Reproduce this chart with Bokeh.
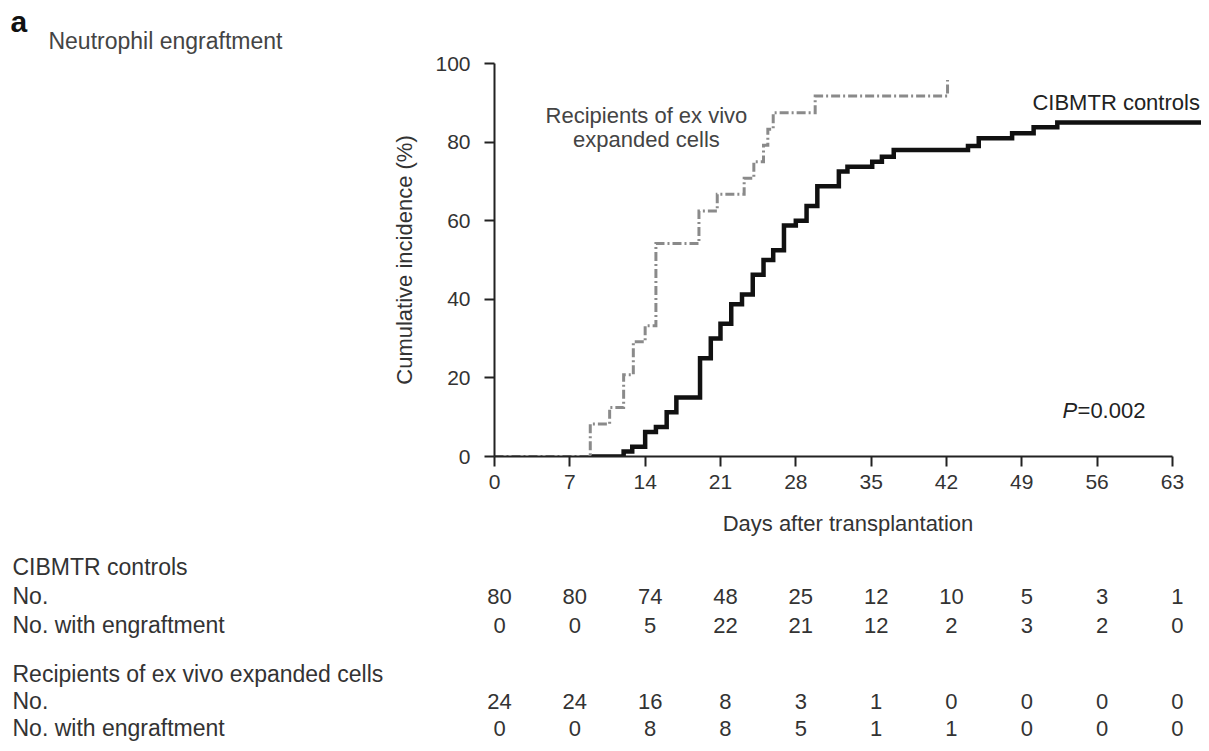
from bokeh.plotting import figure
from bokeh.models import Range1d, FixedTicker, ColumnDataSource
from bokeh.core.properties import value
from bokeh.embed import file_html
from bokeh.resources import INLINE

# ---------------- data ----------------
# CIBMTR controls: cumulative incidence (%) step curve
ctrl_days = [9.0, 12.0, 12.8, 14.0, 15.0, 16.0, 16.9, 19.1, 20.1, 21.0, 22.0, 23.0,
             24.0, 25.0, 25.9, 26.9, 28.0, 29.0, 30.0, 32.0, 32.8, 35.1, 36.0, 37.1,
             44.0, 45.0, 48.1, 50.1, 52.3, 66.0]
ctrl_inc = [0.0, 1.25, 2.5, 6.25, 7.5, 11.25, 15.0, 25.0, 30.0, 33.75, 38.75, 41.25,
            46.25, 50.0, 52.5, 58.75, 60.0, 63.75, 68.75, 72.5, 73.75, 75.0, 76.25, 78.0,
            79.0, 81.0, 82.25, 83.75, 85.0, 85.0]

# Recipients of ex vivo expanded cells
exp_days = [0.0, 8.9, 10.7, 12.0, 12.9, 14.0, 15.0, 19.0, 20.7, 23.2, 24.1, 25.0,
            25.4, 25.9, 29.8, 42.1]
exp_inc = [0.0, 8.3, 12.5, 20.8, 29.2, 33.3, 54.2, 62.5, 66.7, 70.8, 75.0, 79.2,
           83.3, 87.5, 91.7, 95.8]

tick_days = [0, 7, 14, 21, 28, 35, 42, 49, 56, 63]
tick_pct = [0, 20, 40, 60, 80, 100]

ctrl_no = [80, 80, 74, 48, 25, 12, 10, 5, 3, 1]
ctrl_eng = [0, 0, 5, 22, 21, 12, 2, 3, 2, 0]
exp_no = [24, 24, 16, 8, 3, 1, 0, 0, 0, 0]
exp_eng = [0, 0, 8, 8, 5, 1, 1, 0, 0, 0]

# ---------------- styling ----------------
FONT = "Liberation Sans"
TXT = "#333333"

p = figure(width=1201, height=743,
           x_range=Range1d(0, 65.7), y_range=Range1d(0, 100),
           output_backend="svg", toolbar_location=None,
           min_border_left=494, min_border_right=0,
           min_border_top=63, min_border_bottom=287)
p.outline_line_color = None
p.grid.visible = False
p.background_fill_color = "white"
p.border_fill_color = "white"

for ax in (p.xaxis[0], p.yaxis[0]):
    ax.axis_line_width = 2
    ax.axis_line_color = "#222222"
    ax.major_tick_line_width = 2
    ax.major_tick_line_color = "#222222"
    ax.major_tick_out = 10
    ax.major_tick_in = 0
    ax.minor_tick_out = 0
    ax.minor_tick_in = 0
    ax.major_label_text_font = FONT
    ax.major_label_text_font_size = "21px"
    ax.major_label_text_color = TXT
    ax.axis_label_text_font = FONT
    ax.axis_label_text_font_size = "22px"
    ax.axis_label_text_font_style = "normal"
    ax.axis_label_text_color = TXT

xa = p.xaxis[0]
xa.ticker = FixedTicker(ticks=tick_days)
xa.bounds = (0, 63)
xa.axis_label = "Days after transplantation"
xa.major_label_standoff = 8
xa.axis_label_standoff = 19

ya = p.yaxis[0]
ya.ticker = FixedTicker(ticks=tick_pct)
ya.bounds = (0, 100)
ya.axis_label = "Cumulative incidence (%)"
ya.major_label_standoff = 14
ya.axis_label_standoff = 15

# curves
p.step(ctrl_days, ctrl_inc, mode="after", line_width=4.5, line_color="#111111",
       line_join="miter")
p.step(exp_days, exp_inc, mode="after", line_width=3, line_color="#8a8a8a",
       line_dash="9 3 2 3", line_join="miter")


def txt(x, y, s, size="22px", align="left", style="normal", color=TXT):
    p.text(x=[x], y=[y], text=[s], text_font=value(FONT), text_font_size=size,
           text_align=align, text_baseline="middle", text_color=color,
           text_font_style=style, level="overlay")


# titles and annotations
txt(-44.98, 110.7, "a", size="30px", style="bold", color="#111111")
txt(-41.45, 105.85, "Neutrophil engraftment", size="23px", color="#444444")
txt(14.12, 86.77, "Recipients of ex vivo", align="center", color="#444444")
txt(14.12, 80.66, "expanded cells", align="center", color="#444444")
txt(49.99, 90.08, "CIBMTR controls", color="#222222")
txt(52.78, 11.70, "P", style="italic", color="#222222")
txt(54.18, 11.70, "=0.002", color="#222222")

# risk table
label_x = -44.79
rows = [
    (-28.24, "CIBMTR controls", None),
    (-35.62, "No.", ctrl_no),
    (-43.00, "No. with engraftment", ctrl_eng),
    (-55.22, "Recipients of ex vivo expanded cells", None),
    (-62.34, "No.", exp_no),
    (-69.21, "No. with engraftment", exp_eng),
]
for ry, lab, vals in rows:
    txt(label_x, ry, lab, size="23px")
    if vals is not None:
        src = ColumnDataSource(dict(x=tick_days, y=[ry] * len(tick_days),
                                    t=[str(v) for v in vals]))
        p.text(x="x", y="y", text="t", source=src, text_font=value(FONT),
               text_font_size="22px", text_align="center", text_baseline="middle",
               text_color=TXT, x_offset=5, level="overlay")

open("out.html", "w").write(file_html(p, INLINE))
